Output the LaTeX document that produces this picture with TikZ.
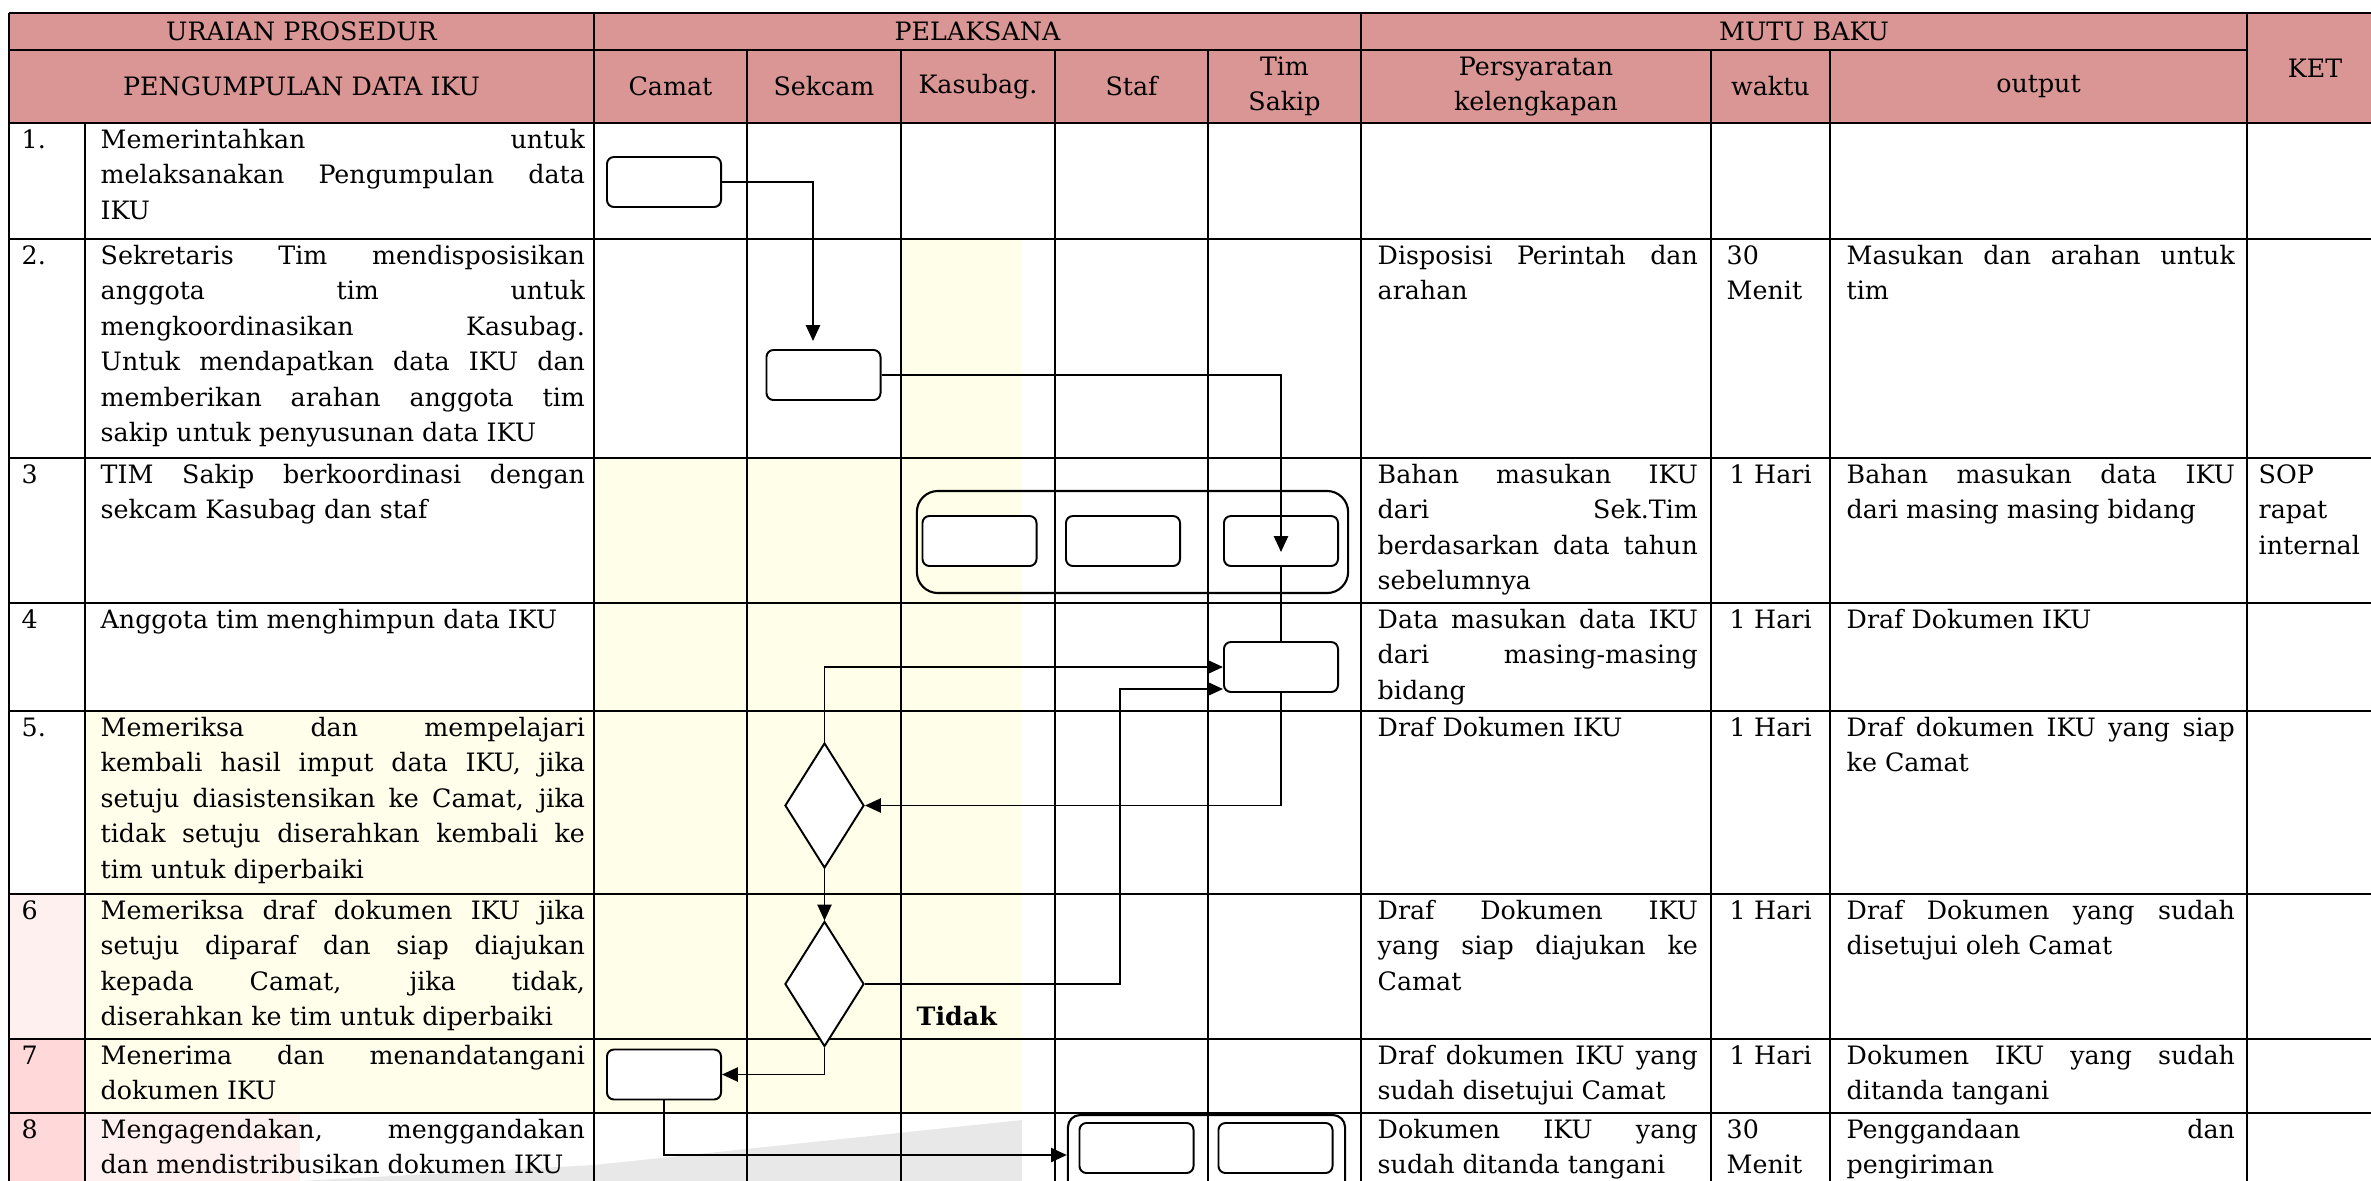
\documentclass[tikz,border=0pt]{standalone}
\usepackage{fontspec}
\setmainfont{DejaVu Serif}
\usetikzlibrary{arrows.meta,shapes.geometric}
\hyphenpenalty=10000
\exhyphenpenalty=10000
\tolerance=9999

\definecolor{headpink}{RGB}{217,150,148}

\begin{document}
\begin{tikzpicture}[x=0.01cm,y=-0.01cm,
    cellfont/.style={font=\fontsize{7.2}{10.1}\selectfont},
    hd/.style={cellfont,align=center,inner sep=0},
    txt/.style={cellfont,anchor=base west,inner sep=0,align=justify},
    lefttxt/.style={cellfont,anchor=base west,inner sep=0,align=left},
    grid/.style={line width=0.6pt},
    box/.style={draw,line width=0.55pt,rounded corners=2pt,fill=white,
      minimum width=1.14cm,minimum height=0.5cm,inner sep=0},
    dec/.style={draw,diamond,line width=0.55pt,fill=white,
      minimum width=0.79cm,minimum height=1.25cm,inner sep=0},
    grp/.style={draw,line width=0.6pt,inner sep=0},
    link/.style={line width=0.55pt},
    flow/.style={line width=0.55pt,-{Triangle[length=4.5pt,width=4pt]}}]
  \useasboundingbox (0,0) rectangle (2371,1181);
  \clip (0,0) rectangle (2371,1181);

  \fill[yellow!9] (594,458) rectangle (1022,1113);
  \fill[yellow!9] (901,239) rectangle (1022,458);
  \fill[yellow!8] (85,711) rectangle (594,1113);
  \fill[red!6] (9,894) rectangle (85,1039);
  \fill[red!15] (9,1039) rectangle (85,1181);
  \fill[red!6] (85,1113) rectangle (300,1181);
  \fill[gray!18] (300,1181) -- (594,1165) -- (1022,1120) -- (1022,1181) -- cycle;

  \fill[headpink] (9,13) rectangle (2371,123);

  \foreach \y in {13,123,239,458,603,711,894,1039,1113}
    \draw[grid] (9,\y) -- (2371,\y);
  \draw[grid] (9,50) -- (2247,50);
  \foreach \x in {9,594,1361,2247}
    \draw[grid] (\x,13) -- (\x,1181);
  \foreach \x in {747,901,1055,1208,1711,1830}
    \draw[grid] (\x,50) -- (\x,1181);
  \draw[grid] (85,123) -- (85,1181);

  \node[hd] (uraian) at (301.5,31.5) {URAIAN PROSEDUR};
  \node[hd] (pelaksana) at (977.5,31.5) {PELAKSANA};
  \node[hd] (mutu) at (1804,31.5) {MUTU BAKU};
  \node[hd] (ket) at (2315,68) {KET};
  \node[hd] (judul) at (301.5,86.5) {PENGUMPULAN DATA IKU};
  \node[hd] (camat) at (670.5,86.5) {Camat};
  \node[hd] (sekcam) at (824,86.5) {Sekcam};
  \node[hd] (kasubag) at (978,86.5) {Kasubag.};
  \node[hd] (staf) at (1131.5,86.5) {Staf};
  \node[hd] (timsakip) at (1284.5,86.5) {Tim\\Sakip};
  \node[hd] (syarat) at (1536,86.5) {Persyaratan\\kelengkapan};
  \node[hd] (waktu) at (1770.5,86.5) {waktu};
  \node[hd] (output) at (2038.5,86.5) {output};

  \foreach \y/\n [count=\i] in {123/1., 239/2., 458/3, 603/4, 711/5., 894/6, 1039/7, 1113/8}
    \node[lefttxt] (num\i) at (21,\y+25) {\n};

  \node[txt,text width=4.84cm] (uraian1) at (100,148)
    {Memerintahkan untuk\linebreak melaksanakan Pengumpulan data\linebreak IKU};
  \node[txt,text width=4.84cm] (uraian2) at (100,264)
    {Sekretaris Tim mendisposisikan\linebreak anggota tim untuk\linebreak mengkoordinasikan Kasubag.\linebreak Untuk mendapatkan data IKU dan\linebreak memberikan arahan anggota tim\linebreak sakip untuk penyusunan data IKU};
  \node[txt,text width=4.84cm] (uraian3) at (100,483)
    {TIM Sakip berkoordinasi dengan\linebreak sekcam Kasubag dan staf};
  \node[txt,text width=4.84cm] (uraian4) at (100,628)
    {Anggota tim menghimpun data IKU};
  \node[txt,text width=4.84cm] (uraian5) at (100,736)
    {Memeriksa dan mempelajari\linebreak kembali hasil imput data IKU, jika\linebreak setuju diasistensikan ke Camat, jika\linebreak tidak setuju diserahkan kembali ke\linebreak tim untuk diperbaiki};
  \node[txt,text width=4.84cm] (uraian6) at (100,919)
    {Memeriksa draf dokumen IKU jika\linebreak setuju diparaf dan siap diajukan\linebreak kepada Camat, jika tidak,\linebreak diserahkan ke tim untuk diperbaiki};
  \node[txt,text width=4.84cm] (uraian7) at (100,1064)
    {Menerima dan menandatangani\linebreak dokumen IKU};
  \node[txt,text width=4.84cm] (uraian8) at (100,1138)
    {Mengagendakan, menggandakan\linebreak dan mendistribusikan dokumen IKU};

  \node[txt,text width=3.2cm] (syarat2) at (1377,264) {Disposisi Perintah dan\linebreak arahan};
  \node[txt,text width=3.2cm] (syarat3) at (1377,483)
    {Bahan masukan IKU\linebreak dari Sek.Tim\linebreak berdasarkan data tahun\linebreak sebelumnya};
  \node[txt,text width=3.2cm] (syarat4) at (1377,628)
    {Data masukan data IKU\linebreak dari masing-masing\linebreak bidang};
  \node[txt,text width=3.2cm] (syarat5) at (1377,736) {Draf Dokumen IKU};
  \node[txt,text width=3.2cm] (syarat6) at (1377,919)
    {Draf Dokumen IKU\linebreak yang siap diajukan ke\linebreak Camat};
  \node[txt,text width=3.2cm] (syarat7) at (1377,1064)
    {Draf dokumen IKU yang\linebreak sudah disetujui Camat};
  \node[txt,text width=3.2cm] (syarat8) at (1377,1138)
    {Dokumen IKU yang\linebreak sudah ditanda tangani};

  \node[lefttxt,text width=0.95cm] (waktu2) at (1726,264) {30\\Menit};
  \foreach \y [count=\i from 3] in {483,628,736,919,1064}
    \node[lefttxt,text width=0.95cm] (waktu\i) at (1729,\y) {1 Hari};
  \node[lefttxt,text width=0.95cm] (waktu8) at (1726,1138) {30\\Menit};

  \node[txt,text width=3.88cm] (output2) at (1846,264) {Masukan dan arahan untuk\linebreak tim};
  \node[txt,text width=3.88cm] (output3) at (1846,483)
    {Bahan masukan data IKU\linebreak dari masing masing bidang};
  \node[txt,text width=3.88cm] (output4) at (1846,628) {Draf Dokumen IKU};
  \node[txt,text width=3.88cm] (output5) at (1846,736)
    {Draf dokumen IKU yang siap\linebreak ke Camat};
  \node[txt,text width=3.88cm] (output6) at (1846,919)
    {Draf Dokumen yang sudah\linebreak disetujui oleh Camat};
  \node[txt,text width=3.88cm] (output7) at (1846,1064)
    {Dokumen IKU yang sudah\linebreak ditanda tangani};
  \node[txt,text width=3.88cm] (output8) at (1846,1138)
    {Penggandaan dan\linebreak pengiriman};

  \node[lefttxt,text width=1.1cm] (ket3) at (2258,483) {SOP\\rapat\\internal};

  \node[grp,rounded corners=6pt,minimum width=4.31cm,minimum height=1.02cm] (grp3) at (1132.5,542) {};
  \node[grp,rounded corners=3.5pt,minimum width=2.77cm,minimum height=0.8cm] (grp8) at (1206.5,1155) {};

  \node[box] (cam1) at (664,182) {};
  \node[box] (sek2) at (823.5,375) {};
  \node[box] (kas3) at (979.5,541) {};
  \node[box] (staf3) at (1123,541) {};
  \node[box] (tim3) at (1281,541) {};
  \node[box] (tim4) at (1281,667) {};
  \node[dec] (dec5) at (824.5,805.5) {};
  \node[dec] (dec6) at (824.5,984) {};
  \node[box] (cam7) at (664,1074.5) {};
  \node[box] (staf8) at (1136.5,1148) {};
  \node[box] (tim8) at (1275.5,1148) {};

  \node[font=\fontsize{7.2}{10.1}\selectfont\bfseries,anchor=base west,inner sep=0] (tidak) at (916,1025) {Tidak};

  \coordinate (in2) at (813,341);
  \coordinate (in3) at (1281,552);
  \coordinate (back6) at (1120,689);
  \draw[flow] (cam1.east) -| (in2);
  \draw[flow] (sek2.east) -| (in3);
  \draw[link] (tim3.south) -- (tim4.north);
  \draw[flow] (tim4.south) |- (dec5.east);
  \draw[flow] (dec5.north) |- (tim4.west);
  \draw[flow] (dec5.south) -- (dec6.north);
  \draw[flow] (dec6.east) -| (back6) -- (back6 -| tim4.west);
  \draw[flow] (dec6.south) |- (cam7.east);
  \draw[flow] (cam7.south) |- (grp8.west);
\end{tikzpicture}
\end{document}
